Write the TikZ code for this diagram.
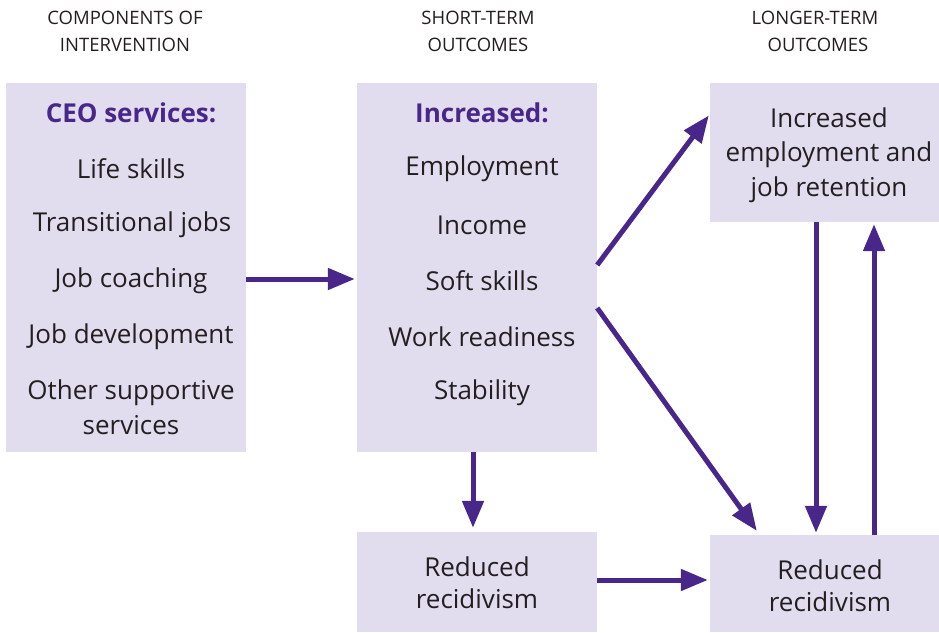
\documentclass[tikz,border=0pt]{standalone}
\usepackage{fontspec}
\setmainfont{Open Sans}
\usetikzlibrary{arrows.meta}
\definecolor{boxfill}{HTML}{E1DDEE}
\definecolor{purp}{HTML}{48268A}
\definecolor{ink}{HTML}{231F20}
\begin{document}
\begin{tikzpicture}[x=1pt,y=-1pt,
  box/.style={fill=boxfill,draw=none,inner sep=0pt,anchor=center},
  txt/.style={text=ink,font=\fontsize{26}{30}\selectfont,inner sep=0pt,anchor=center},
  ttl/.style={text=purp,font=\fontsize{26}{30}\selectfont\bfseries,inner sep=0pt,anchor=center},
  hdr/.style={text=ink,font=\fontsize{18.5}{21}\selectfont,inner sep=0pt,anchor=center},
  arr/.style={draw=purp,line width=5pt,-{Triangle[length=27pt,width=21pt]}}]
\useasboundingbox (0,0) rectangle (939,632);
% boxes
\node[box,minimum width=240pt,minimum height=369pt] (L) at (126,267.5) {};
\node[box,minimum width=240pt,minimum height=369pt] (M) at (477,267.5) {};
\node[box,minimum width=229pt,minimum height=139pt] (RT) at (824.5,152.5) {};
\node[box,minimum width=240pt,minimum height=100pt] (MB) at (477,582) {};
\node[box,minimum width=229pt,minimum height=97pt] (RB) at (824.5,583.5) {};
% headers
\node[hdr] (h1a) at (125,18) {COMPONENTS OF};
\node[hdr] (h1b) at (125,45) {INTERVENTION};
\node[hdr] (h2a) at (478,18) {SHORT-TERM};
\node[hdr] (h2b) at (478,45) {OUTCOMES};
\node[hdr] (h3a) at (815,18) {LONGER-TERM};
\node[hdr] (h3b) at (818,45) {OUTCOMES};
% left box text
\node[ttl] (l0) at (131,113) {CEO services:};
\node[txt] (l1) at (131,169) {Life skills};
\node[txt] (l2) at (132,225) {Transitional jobs};
\node[txt] (l3) at (131,281) {Job coaching};
\node[txt] (l4) at (131,337) {Job development};
\node[txt] (l5) at (131,393) {Other supportive};
\node[txt] (l6) at (131,425) {services};
% middle box text
\node[ttl] (m0) at (482,113) {Increased:};
\node[txt] (m1) at (482,169) {Employment};
\node[txt] (m2) at (482,225) {Income};
\node[txt] (m3) at (482,281) {Soft skills};
\node[txt] (m4) at (482,337) {Work readiness};
\node[txt] (m5) at (482,393) {Stability};
% right top text
\node[txt] (r1) at (829,118) {Increased};
\node[txt] (r2) at (829,155) {employment and};
\node[txt] (r3) at (829,190) {job retention};
% bottom texts
\node[txt] (b1) at (477,567) {Reduced};
\node[txt] (b2) at (477,599) {recidivism};
\node[txt] (c1) at (830,570) {Reduced};
\node[txt] (c2) at (830,602) {recidivism};
% arrows
\draw[arr] ([yshift=-11.5pt]L.east) -- ([xshift=-2pt,yshift=-11.5pt]M.west);
\draw[arr] ([yshift=2.5pt]M.east) -- ([xshift=-1pt,yshift=37pt]RT.west);
\draw[arr] ([yshift=-40.5pt]M.east) -- ([xshift=47pt,yshift=4pt]RB.north west);
\draw[arr] ([xshift=-4pt]M.south) -- ([xshift=-4pt,yshift=4pt]MB.north);
\draw[arr] ([yshift=2pt]MB.east) -- ([xshift=-2pt,yshift=3.5pt]RB.west);
\draw[arr] ([xshift=-8.5pt]RT.south) -- ([xshift=-8.5pt,yshift=2pt]RB.north);
\draw[arr] ([xshift=49.5pt]RB.north) -- ([xshift=49.5pt,yshift=-2pt]RT.south);
\end{tikzpicture}
\end{document}
